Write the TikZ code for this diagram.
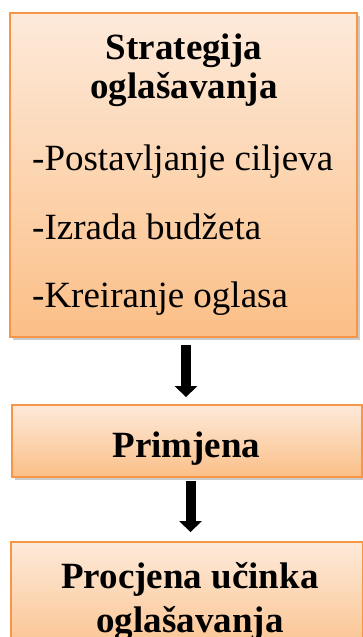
\documentclass[tikz,border=0pt]{standalone}
\usepackage{fontspec}
\setmainfont{Liberation Serif}
\usetikzlibrary{arrows.meta,shadows}
\definecolor{peachtop}{RGB}{253,234,218}
\definecolor{peachbot}{RGB}{251,191,135}
\definecolor{orangeb}{RGB}{247,150,70}
\tikzset{
 box/.style={draw=orangeb, line width=1.8pt, top color=peachtop, bottom color=peachbot,
   drop shadow={shadow xshift=2.5pt, shadow yshift=-3pt, opacity=0.35, fill=black!60}, inner sep=0pt},
 big/.style={font=\fontsize{37}{40}\selectfont, inner sep=0pt},
 bigb/.style={font=\fontsize{37}{40}\selectfont\bfseries, inner sep=0pt},
 arr/.style={line width=10pt, -{Triangle[width=22pt,length=11pt]}}
}
\begin{document}
\begin{tikzpicture}[x=1pt,y=1pt]
\clip (0,0) rectangle (363,-637);
\node[box, minimum width=347pt, minimum height=324pt] (b1) at (183.5,-175) {};
\node[box, minimum width=350pt, minimum height=72pt] (b2) at (187,-441) {};
\node[box, minimum width=352pt, minimum height=120pt] (b3) at (187,-602) {};
\node[bigb, anchor=base] (t1) at (184,-59) {Strategija};
\node[bigb, anchor=base] (t2) at (184,-98) {oglašavanja};
\node[big, anchor=base west] (l1) at (32,-170) {-Postavljanje ciljeva};
\node[big, anchor=base west] (l2) at (32,-239) {-Izrada budžeta};
\node[big, anchor=base west] (l3) at (32,-307) {-Kreiranje oglasa};
\node[bigb, anchor=base] (p) at (186.5,-457) {Primjena};
\node[bigb, anchor=base] (q1) at (190,-588) {Procjena učinka};
\node[bigb, anchor=base] (q2) at (190,-632) {oglašavanja};
\draw[arr] ([xshift=2.5pt,yshift=-7pt]b1.south) -- ([xshift=-1pt,yshift=7pt]b2.north);
\draw[arr] ([xshift=3.5pt,yshift=-3pt]b2.south) -- ([xshift=3.5pt,yshift=9pt]b3.north);
\end{tikzpicture}
\end{document}
